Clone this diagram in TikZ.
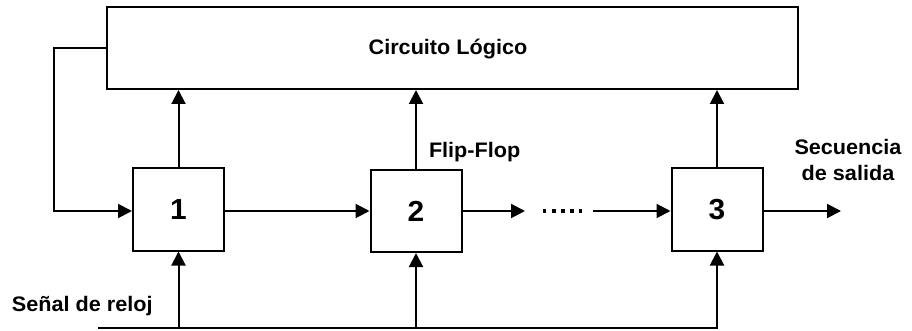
\documentclass[tikz,border=0pt]{standalone}
\usepackage{fontspec}
\setmainfont{Liberation Sans}[FakeStretch=1.03]
\usetikzlibrary{arrows.meta}
\begin{document}
\begin{tikzpicture}[x=1pt,y=-1pt,
  line width=2pt,
  tip/.style={-{Triangle[length=14pt,width=14pt]}},
  ffbox/.style={draw,rectangle,minimum width=91pt,minimum height=82pt,inner sep=0pt,
    font=\fontsize{29}{31}\selectfont\bfseries},
  lbl/.style={inner sep=0pt,font=\fontsize{21}{25.5}\selectfont\bfseries}]
  \useasboundingbox (0,0) rectangle (912,331);

  % combinational logic block
  \node[draw,rectangle,minimum width=691pt,minimum height=82pt,inner sep=0pt] (logic) at (452.5,48) {};
  \node[lbl,anchor=base] (logictxt) at (448,55) {Circuito Lógico};

  % flip-flops
  \node[ffbox] (ff1) at (178.5,209.5) {1};
  \node[ffbox] (ff2) at (416,211) {2};
  \node[ffbox] (ff3) at (717,209.5) {3};

  % flip-flop outputs into the logic block
  \draw[tip] (ff1.north) -- (ff1.north |- logic.south);
  \draw[tip] (ff2.north) -- (ff2.north |- logic.south);
  \draw[tip] (ff3.north) -- (ff3.north |- logic.south);

  % feedback from the logic block to the first flip-flop
  \coordinate (fbcorner1) at (54,48);
  \coordinate (fbcorner2) at (54,211);
  \draw[tip] (logic.west |- fbcorner1) -- (fbcorner1) -- (fbcorner2) -- (ff1.west |- fbcorner2);

  % chain between flip-flops
  \draw[tip] (ff1.east |- 0,211) -- (ff2.west |- 0,211);
  \coordinate (dotsend) at (525,211);
  \coordinate (dotsA) at (543,211);
  \coordinate (dotsB) at (582,211);
  \coordinate (resume) at (593,211);
  \draw[tip] (ff2.east |- dotsend) -- (dotsend);
  \draw[line width=3.4pt,dash pattern=on 3.4pt off 5.7pt] (dotsA) -- (dotsB);
  \draw[tip] (resume) -- (ff3.west |- resume);

  % output sequence
  \coordinate (outend) at (841,211);
  \draw[tip] (ff3.east |- outend) -- (outend);
  \node[lbl,align=center,anchor=base] (outtxt) at (848,180) {Secuencia\\de salida};

  % clock distribution
  \coordinate (clkstart) at (98,328);
  \coordinate (clkend) at (ff3.south |- clkstart);
  \draw[tip] (clkstart) -- (clkend) -- (ff3.south);
  \draw[tip] (ff1.south |- clkstart) -- (ff1.south);
  \draw[tip] (ff2.south |- clkstart) -- (ff2.south);

  % labels
  \node[lbl,anchor=base west] (clktxt) at (11,311) {Señal de reloj};
  \node[lbl,anchor=base west] (fftxt) at (428,158) {Flip-Flop};
\end{tikzpicture}
\end{document}
